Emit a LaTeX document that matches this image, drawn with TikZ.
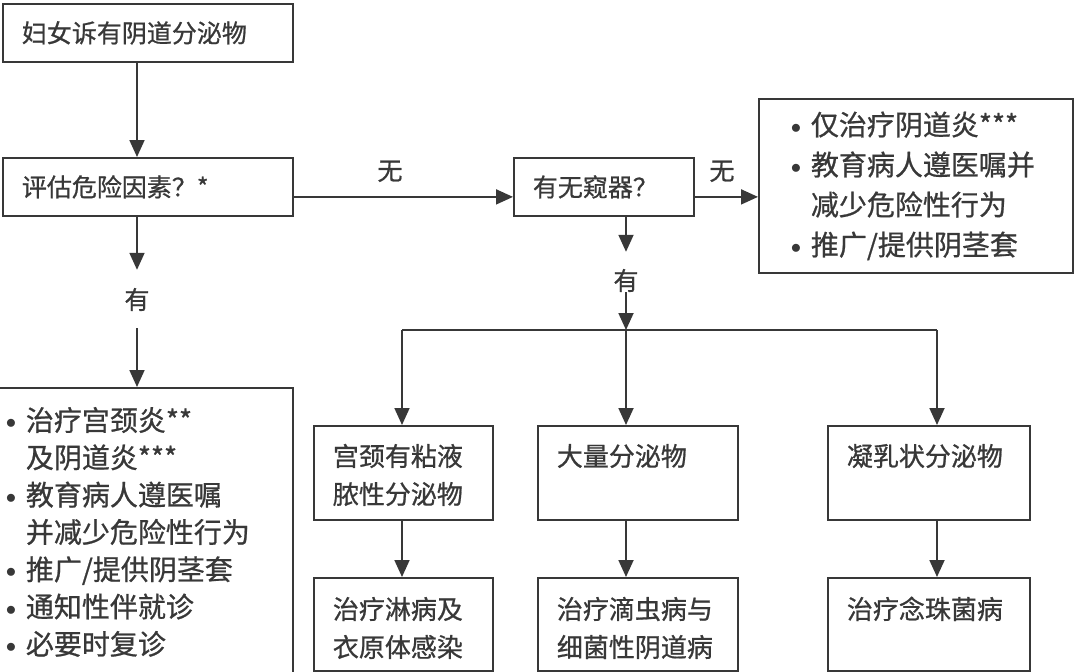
\documentclass[tikz,border=0pt]{standalone}
\usepackage{fontspec}
\setmainfont{Noto Sans CJK SC}
\usepackage{xcolor}
\usepackage{tikz}
\usetikzlibrary{arrows.meta}
\definecolor{ink}{HTML}{383838}
\newcommand\dotitem{\makebox[20pt][l]{\raisebox{2pt}{$\scriptstyle\bullet$}}}
\newcommand\heavy{\addfontfeature{FakeBold=0.8}}
\tikzset{box/.style={draw=ink, line width=1.8pt, anchor=north west, align=left,
        inner xsep=19pt, inner ysep=0pt, text=ink, font=\fontsize{25pt}{38pt}\selectfont\heavy},
    list/.style={box, font=\fontsize{28pt}{40pt}\selectfont\heavy},
    mid/.style={box, font=\fontsize{26pt}{38pt}\selectfont\heavy},
    uprow/.style={text height=40pt, text depth=54pt},
    lowrow/.style={text height=41pt, text depth=52pt},
    lab/.style={text=ink, inner sep=0pt, anchor=base, font=\fontsize{25pt}{30pt}\selectfont\heavy},
    line/.style={draw=ink, line width=1.8pt},
    arr/.style={line, -{Triangle[length=17pt,width=15pt]}}}

\begin{document}
\begin{tikzpicture}[x=1pt, y=-1pt]
    \useasboundingbox (0,0) rectangle (1074,672);
    \node[box, text width=252pt, minimum height=58pt] (b1) at (2,3) {妇女诉有阴道分泌物};
    \node[box, text width=252pt, minimum height=58pt] (b2) at (2,157) {评估危险因素？*};
    \node[box, text width=142pt, minimum height=58pt] (b3) at (513,157) {有无窥器？};
    \node[list, inner xsep=32pt, text width=250pt, minimum height=174pt] (b4) at (758,98)
        {\dotitem 仅治疗阴道炎***\\ \dotitem 教育病人遵医嘱并\\ \hspace*{20pt}减少危险性行为\\ \dotitem 推广/提供阴茎套};
    \node[list, inner xsep=8pt, text width=279pt, minimum height=288pt,
        font=\fontsize{28pt}{37.3pt}\selectfont\heavy] (b5) at (-3,387)
        {\dotitem 治疗宫颈炎**\\ \hspace*{20pt}及阴道炎***\\ \dotitem 教育病人遵医嘱\\ \hspace*{20pt}并减少危险性行为\\
         \dotitem 推广/提供阴茎套\\ \dotitem 通知性伴就诊\\ \dotitem 必要时复诊};
    \node[mid, uprow, text width=141pt] (b6) at (313,425) {宫颈有粘液\\脓性分泌物};
    \node[mid, uprow, text width=162pt] (b7) at (537,425) {大量分泌物};
    \node[mid, uprow, text width=164pt] (b8) at (827,425) {凝乳状分泌物};
    \node[mid, lowrow, text width=141pt] (b9) at (313,577) {治疗淋病及\\衣原体感染};
    \node[mid, lowrow, text width=162pt] (b10) at (537,577) {治疗滴虫病与\\细菌性阴道病};
    \node[mid, lowrow, text width=164pt] (b11) at (827,577) {治疗念珠菌病};

    \node[lab] (n1) at (390,180) {无};
    \node[lab] (n2) at (722,180) {无};
    \node[lab, text height=39pt, text depth=19pt] (y1) at (137,309) {有};
    \node[lab, text height=38pt, text depth=2pt] (y2) at (626,290) {有};
    \coordinate (jl) at (402,330);
    \coordinate (jr) at (937,330);

    \draw[arr] (b1.south -| y1) -- (b2.north -| y1);
    \draw[arr] (b2.south -| y1) -- (y1.north);
    \draw[arr] (y1.south) -- (b5.north -| y1);
    \draw[arr] ([yshift=-10pt]b2.east) -- ([yshift=-10pt]b3.west);
    \draw[arr] ([yshift=-10pt]b3.east) -- ([yshift=-10pt]b3.east -| b4.west);
    \draw[arr] (b3.south -| y2) -- (y2.north);
    \draw[line] (jl) -- (jr);
    \draw[arr] (y2.south) -- (y2 |- jl);
    \draw[arr] (jl) -- (b6.north -| jl);
    \draw[arr] (y2 |- jl) -- (b7.north -| y2);
    \draw[arr] (jr) -- (b8.north -| jr);
    \draw[arr] (b6.south -| jl) -- (b9.north -| jl);
    \draw[arr] (b7.south -| y2) -- (b10.north -| y2);
    \draw[arr] (b8.south -| jr) -- (b11.north -| jr);
\end{tikzpicture}
\end{document}
